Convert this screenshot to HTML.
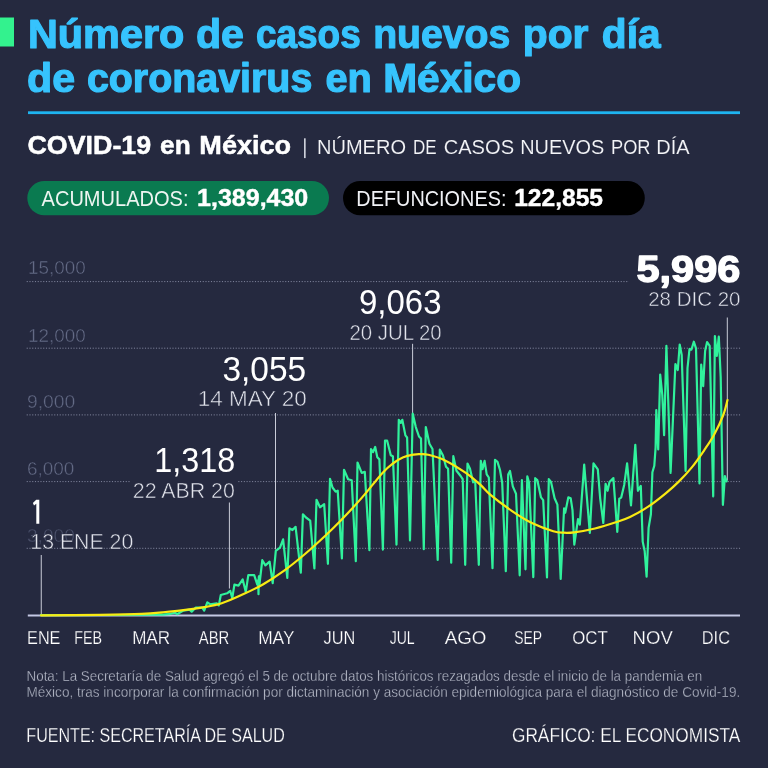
<!DOCTYPE html>
<html lang="es"><head><meta charset="utf-8"><title>Número de casos nuevos por día de coronavirus en México</title>
<style>
html,body{margin:0;padding:0;background:#25293f;}
body{width:768px;height:768px;overflow:hidden;font-family:"Liberation Sans",sans-serif;}
svg{display:block;will-change:transform;}
svg text{font-family:"Liberation Sans",sans-serif;}
</style></head><body>
<svg width="768" height="768" viewBox="0 0 768 768">
<rect width="768" height="768" fill="#25293f"/>
<rect x="0" y="17.5" width="14" height="29" fill="#33f28e"/>
<rect x="28" y="111.3" width="712" height="2.8" fill="#1eb4f0"/>
<rect x="27.3" y="181" width="301.7" height="34.2" rx="17.1" fill="#0a7a50"/>
<rect x="343" y="181" width="301.8" height="34.2" rx="17.1" fill="#000"/>
<rect x="304.1" y="138.3" width="1.5" height="19.8" fill="#dfe1ea"/>
<line x1="26.7" y1="281.6" x2="629" y2="281.6" stroke="#80859d" stroke-width="1" stroke-dasharray="1.1 1.65"/>
<line x1="26.7" y1="348.2" x2="741" y2="348.2" stroke="#80859d" stroke-width="1" stroke-dasharray="1.1 1.65"/>
<line x1="26.7" y1="414.9" x2="741" y2="414.9" stroke="#80859d" stroke-width="1" stroke-dasharray="1.1 1.65"/>
<line x1="26.7" y1="481.6" x2="130.5" y2="481.6" stroke="#80859d" stroke-width="1" stroke-dasharray="1.1 1.65"/>
<line x1="238.3" y1="481.6" x2="741" y2="481.6" stroke="#80859d" stroke-width="1" stroke-dasharray="1.1 1.65"/>
<line x1="26.7" y1="548.3" x2="741" y2="548.3" stroke="#80859d" stroke-width="1" stroke-dasharray="1.1 1.65"/>

<text x="28.13" y="274" font-size="17.5" font-weight="normal" fill="#636a85" textLength="57.59" lengthAdjust="spacingAndGlyphs" stroke="#25293f" stroke-width="0.4" class="yl">15,000</text>
<text x="28.13" y="341.5" font-size="17.5" font-weight="normal" fill="#636a85" textLength="57.59" lengthAdjust="spacingAndGlyphs" stroke="#25293f" stroke-width="0.4" class="yl">12,000</text>
<text x="26.96" y="408" font-size="17.5" font-weight="normal" fill="#636a85" textLength="48.37" lengthAdjust="spacingAndGlyphs" stroke="#25293f" stroke-width="0.4" class="yl">9,000</text>
<text x="26.91" y="474.5" font-size="17.5" font-weight="normal" fill="#636a85" textLength="47.51" lengthAdjust="spacingAndGlyphs" stroke="#25293f" stroke-width="0.4" class="yl">6,000</text>
<text x="26.96" y="541.5" font-size="17.5" font-weight="normal" fill="#4a506a" textLength="47.83" lengthAdjust="spacingAndGlyphs" stroke="#25293f" stroke-width="0.4" class="yl">3,000</text>
<line x1="41.25" y1="555" x2="41.25" y2="616" stroke="#c9ccd8" stroke-width="1"/>
<line x1="229.4" y1="502.5" x2="229.4" y2="588.5" stroke="#c9ccd8" stroke-width="1"/>
<line x1="275.5" y1="413" x2="275.5" y2="549.5" stroke="#c9ccd8" stroke-width="1"/>
<line x1="412.6" y1="343.8" x2="412.6" y2="413" stroke="#c9ccd8" stroke-width="1"/>
<line x1="727.3" y1="317.5" x2="727.3" y2="480.5" stroke="#c9ccd8" stroke-width="1"/>

<line x1="27.8" y1="615.6" x2="740" y2="615.6" stroke="#c4c8e4" stroke-width="2"/>
<polyline fill="none" stroke="#30f29c" stroke-width="2.2" stroke-linejoin="round" stroke-linecap="round" points="41.0,615.2 120.0,615.0 150.0,614.6 162.5,614.6 168.8,614.2 175.0,612.7 177.1,614.2 183.3,610.6 189.6,609.6 191.7,611.7 195.8,607.5 202.1,607.5 204.2,610.6 207.3,602.3 210.4,604.4 216.7,603.3 218.8,605.4 220.8,595.0 227.1,593.3 230.2,590.8 232.3,598.1 234.4,584.6 238.5,585.6 242.7,579.4 245.8,591.9 248.3,575.2 254.2,575.2 257.3,584.6 257.6,584.2 257.9,585.2 258.2,580.0 258.5,594.2 258.8,576.9 259.1,576.2 259.2,586.7 262.3,560.2 265.4,565.4 269.6,561.7 272.7,583.1 275.8,550.8 280.0,547.7 283.1,539.4 287.3,577.9 289.4,528.3 292.5,530.0 295.6,526.9 300.8,572.7 302.9,514.4 306.0,517.5 310.2,520.6 314.4,568.5 316.5,499.8 320.0,507.3 324.2,504.2 327.9,563.8 330.0,478.8 332.5,487.5 335.6,491.7 337.7,490.6 341.9,558.5 344.0,469.8 348.1,479.2 351.7,480.2 355.8,561.2 357.5,462.5 361.7,472.9 364.8,471.9 369.4,550.2 371.0,449.0 373.1,452.1 375.2,446.9 377.3,457.3 379.4,459.4 382.9,549.6 385.0,440.6 387.1,440.6 390.8,455.2 392.9,456.2 396.5,544.6 398.8,419.8 400.8,422.9 402.3,419.8 405.4,435.4 407.1,437.5 410.0,540.4 412.7,413.5 415.8,427.1 419.0,436.5 421.0,438.5 423.8,549.2 425.8,427.1 429.4,443.8 432.5,449.0 437.7,560.0 439.8,449.6 442.9,455.2 446.0,466.7 448.1,468.8 451.2,562.7 453.3,456.2 456.5,470.8 460.6,476.0 462.7,479.2 465.2,564.8 467.5,463.5 470.0,468.8 473.1,482.3 475.2,481.2 478.8,564.8 480.8,460.8 482.5,469.2 484.6,460.8 486.7,474.4 488.8,477.5 492.5,568.1 495.0,459.8 497.5,461.9 500.0,470.0 502.2,482.8 505.8,571.1 508.2,474.6 510.0,470.9 512.8,486.4 516.0,493.7 519.7,575.3 521.9,480.1 525.5,569.3 527.3,476.4 529.1,482.8 533.3,577.1 535.2,478.2 537.3,480.1 541.0,497.4 543.2,500.1 547.0,577.5 548.8,479.1 551.0,481.9 554.6,498.3 557.4,504.6 560.7,579.0 564.1,508.3 565.2,512.8 568.3,497.4 570.7,498.3 572.5,510.1 574.3,544.7 578.0,519.2 579.8,524.7 584.2,464.6 589.8,532.9 593.5,463.4 597.8,469.3 600.2,498.6 603.3,523.0 605.6,483.9 607.6,490.8 609.5,482.0 613.4,478.1 617.3,531.8 619.3,498.6 621.2,497.6 624.2,484.9 627.1,463.4 631.0,505.4 635.3,444.9 637.9,490.8 640.8,485.9 642.7,541.6 644.7,551.3 646.6,576.7 648.6,527.9 650.9,514.2 652.4,472.3 654.3,465.8 655.6,447.5 656.3,410.0 658.2,449.5 660.2,374.5 662.3,395.0 664.1,435.2 666.4,345.8 670.6,472.9 675.4,364.0 677.8,370.0 679.7,344.5 681.7,355.0 685.6,471.0 687.5,368.0 689.5,349.0 691.4,349.7 693.8,341.7 696.0,348.4 699.5,483.4 701.2,364.7 703.2,386.2 705.1,351.0 707.1,342.0 709.7,345.8 713.2,496.4 714.9,336.0 716.8,356.0 718.8,336.7 720.7,377.0 722.9,504.8 724.9,476.2 726.6,481.4"/>
<path fill="none" stroke="#f9ea12" stroke-width="2.2" stroke-linecap="round" d="M41.0,615.3 C50.8,615.2 83.2,615.1 100.0,614.8 C116.8,614.5 131.3,614.2 141.7,613.8 C152.1,613.3 155.6,612.9 162.5,612.3 C169.4,611.7 176.4,611.1 183.3,610.2 C190.2,609.4 197.8,608.4 204.2,607.2 C210.6,606.1 215.3,605.4 221.7,603.3 C228.1,601.2 235.6,597.8 242.5,594.6 C249.4,591.4 256.4,588.2 263.3,584.2 C270.2,580.2 277.2,575.6 284.2,570.6 C291.1,565.6 298.1,559.9 305.0,554.0 C311.9,548.1 319.8,540.8 325.8,535.2 C331.8,529.6 334.8,526.7 340.8,520.5 C346.8,514.3 354.8,505.8 361.7,497.9 C368.6,490.0 377.3,478.6 382.5,472.9 C387.7,467.2 389.4,466.1 392.9,463.5 C396.4,460.9 399.8,458.8 403.3,457.3 C406.8,455.8 411.0,455.1 413.8,454.6 C416.5,454.1 417.6,454.2 420.0,454.2 C422.4,454.2 424.1,453.8 428.3,454.8 C432.5,455.8 438.8,457.4 445.0,460.4 C451.2,463.4 460.0,468.9 465.8,472.9 C471.6,476.9 475.8,480.7 480.0,484.4 C484.2,488.1 485.5,490.8 490.8,495.2 C496.1,499.6 504.8,506.1 511.7,510.8 C518.6,515.5 525.6,519.9 532.5,523.3 C539.4,526.7 548.1,529.7 553.3,531.2 C558.5,532.8 560.3,532.5 563.8,532.7 C567.2,532.9 569.0,533.0 574.2,532.3 C579.4,531.6 588.1,530.2 595.0,528.5 C601.9,526.8 610.0,524.2 615.8,522.3 C621.6,520.4 624.5,519.6 630.0,517.0 C635.5,514.4 642.6,510.4 648.6,506.4 C654.6,502.4 660.9,497.3 666.0,493.1 C671.1,488.9 674.7,485.7 679.0,481.4 C683.3,477.1 687.6,472.5 692.0,467.1 C696.4,461.7 701.4,454.3 705.1,448.9 C708.8,443.5 711.2,440.1 714.2,434.5 C717.2,428.9 721.1,420.8 723.3,415.0 C725.5,409.2 726.8,402.5 727.5,400.0"/>
<text x="27.96" y="47.8" font-size="40" font-weight="bold" fill="#36c3fd" textLength="156.33" lengthAdjust="spacingAndGlyphs" stroke="#36c3fd" stroke-width="1.2" stroke-linejoin="round">Número</text>
<text x="195.95" y="47.8" font-size="40" font-weight="bold" fill="#36c3fd" textLength="48.02" lengthAdjust="spacingAndGlyphs" stroke="#36c3fd" stroke-width="1.2" stroke-linejoin="round">de</text>
<text x="256.01" y="47.8" font-size="40" font-weight="bold" fill="#36c3fd" textLength="104.67" lengthAdjust="spacingAndGlyphs" stroke="#36c3fd" stroke-width="1.2" stroke-linejoin="round">casos</text>
<text x="373.2" y="47.8" font-size="40" font-weight="bold" fill="#36c3fd" textLength="137.14" lengthAdjust="spacingAndGlyphs" stroke="#36c3fd" stroke-width="1.2" stroke-linejoin="round">nuevos</text>
<text x="522.73" y="47.8" font-size="40" font-weight="bold" fill="#36c3fd" textLength="65.76" lengthAdjust="spacingAndGlyphs" stroke="#36c3fd" stroke-width="1.2" stroke-linejoin="round">por</text>
<text x="601.84" y="47.8" font-size="40" font-weight="bold" fill="#36c3fd" textLength="58.71" lengthAdjust="spacingAndGlyphs" stroke="#36c3fd" stroke-width="1.2" stroke-linejoin="round">día</text>
<text x="27.12" y="92.3" font-size="40" font-weight="bold" fill="#36c3fd" textLength="48.0" lengthAdjust="spacingAndGlyphs" stroke="#36c3fd" stroke-width="1.2" stroke-linejoin="round">de</text>
<text x="86.92" y="92.3" font-size="40" font-weight="bold" fill="#36c3fd" textLength="225.41" lengthAdjust="spacingAndGlyphs" stroke="#36c3fd" stroke-width="1.2" stroke-linejoin="round">coronavirus</text>
<text x="325.51" y="92.3" font-size="40" font-weight="bold" fill="#36c3fd" textLength="46.39" lengthAdjust="spacingAndGlyphs" stroke="#36c3fd" stroke-width="1.2" stroke-linejoin="round">en</text>
<text x="383.19" y="92.3" font-size="40" font-weight="bold" fill="#36c3fd" textLength="137.83" lengthAdjust="spacingAndGlyphs" stroke="#36c3fd" stroke-width="1.2" stroke-linejoin="round">México</text>
<text x="27.51" y="154.4" font-size="26" font-weight="bold" fill="#fff" textLength="123.68" lengthAdjust="spacingAndGlyphs" stroke="#fff" stroke-width="0.5" stroke-linejoin="round">COVID-19</text>
<text x="160.05" y="154.4" font-size="26" font-weight="bold" fill="#fff" textLength="30.6" lengthAdjust="spacingAndGlyphs" stroke="#fff" stroke-width="0.5" stroke-linejoin="round">en</text>
<text x="199.33" y="154.4" font-size="26" font-weight="bold" fill="#fff" textLength="91.82" lengthAdjust="spacingAndGlyphs" stroke="#fff" stroke-width="0.5" stroke-linejoin="round">México</text>
<text x="317.02" y="154" font-size="21" font-weight="normal" fill="#f4f5f8" textLength="89.02" lengthAdjust="spacingAndGlyphs" stroke="#25293f" stroke-width="0.12">NÚMERO</text>
<text x="412.98" y="154" font-size="21" font-weight="normal" fill="#f4f5f8" textLength="23.67" lengthAdjust="spacingAndGlyphs" stroke="#25293f" stroke-width="0.12">DE</text>
<text x="443.67" y="154" font-size="21" font-weight="normal" fill="#f4f5f8" textLength="70.44" lengthAdjust="spacingAndGlyphs" stroke="#25293f" stroke-width="0.12">CASOS</text>
<text x="520.22" y="154" font-size="21" font-weight="normal" fill="#f4f5f8" textLength="83.98" lengthAdjust="spacingAndGlyphs" stroke="#25293f" stroke-width="0.12">NUEVOS</text>
<text x="610.99" y="154" font-size="21" font-weight="normal" fill="#f4f5f8" textLength="39.58" lengthAdjust="spacingAndGlyphs" stroke="#25293f" stroke-width="0.12">POR</text>
<text x="656.32" y="154" font-size="21" font-weight="normal" fill="#f4f5f8" textLength="33.26" lengthAdjust="spacingAndGlyphs" stroke="#25293f" stroke-width="0.12">DÍA</text>
<text x="41.55" y="205.8" font-size="21.3" font-weight="normal" fill="#eef5f1" textLength="146.96" lengthAdjust="spacingAndGlyphs">ACUMULADOS:</text>
<text x="197.14" y="206.2" font-size="23.5" font-weight="bold" fill="#fff" textLength="111.14" lengthAdjust="spacingAndGlyphs" stroke="#fff" stroke-width="0.4" stroke-linejoin="round">1,389,430</text>
<text x="356.32" y="205.8" font-size="21.3" font-weight="normal" fill="#f0f1f5" textLength="150.14" lengthAdjust="spacingAndGlyphs">DEFUNCIONES:</text>
<text x="514.18" y="206.2" font-size="23.5" font-weight="bold" fill="#fff" textLength="88.84" lengthAdjust="spacingAndGlyphs" stroke="#fff" stroke-width="0.4" stroke-linejoin="round">122,855</text>
<text x="30.35" y="548.9" font-size="21.3" font-weight="normal" fill="#e2e4ec" textLength="102.92" lengthAdjust="spacingAndGlyphs" stroke="#25293f" stroke-width="0.5">13 ENE 20</text>
<text x="154.29" y="472" font-size="35" font-weight="normal" fill="#fff" textLength="80.96" lengthAdjust="spacingAndGlyphs">1,318</text>
<text x="132.83" y="497.5" font-size="21.3" font-weight="normal" fill="#e2e4ec" textLength="101.93" lengthAdjust="spacingAndGlyphs" stroke="#25293f" stroke-width="0.5">22 ABR 20</text>
<text x="222.46" y="381" font-size="35" font-weight="normal" fill="#fff" textLength="83.78" lengthAdjust="spacingAndGlyphs">3,055</text>
<text x="197.73" y="406.3" font-size="21.3" font-weight="normal" fill="#e2e4ec" textLength="109.16" lengthAdjust="spacingAndGlyphs" stroke="#25293f" stroke-width="0.5">14 MAY 20</text>
<text x="358.97" y="314" font-size="35" font-weight="normal" fill="#fff" textLength="82.54" lengthAdjust="spacingAndGlyphs">9,063</text>
<text x="349.51" y="339.6" font-size="21.5" font-weight="normal" fill="#e2e4ec" textLength="92.2" lengthAdjust="spacingAndGlyphs" stroke="#25293f" stroke-width="0.5">20 JUL 20</text>
<text x="636.48" y="281.7" font-size="37" font-weight="bold" fill="#fff" textLength="103.92" lengthAdjust="spacingAndGlyphs" stroke="#fff" stroke-width="1.3" stroke-linejoin="round">5,996</text>
<text x="648.22" y="306.4" font-size="21" font-weight="normal" fill="#e2e4ec" textLength="92.28" lengthAdjust="spacingAndGlyphs" stroke="#25293f" stroke-width="0.5">28 DIC 20</text>
<text x="27.07" y="643.5" font-size="19" font-weight="normal" fill="#fff" textLength="33.4" lengthAdjust="spacingAndGlyphs" stroke="#25293f" stroke-width="0.25">ENE</text>
<text x="74.35" y="643.5" font-size="19" font-weight="normal" fill="#fff" textLength="27.72" lengthAdjust="spacingAndGlyphs" stroke="#25293f" stroke-width="0.25">FEB</text>
<text x="132.13" y="643.5" font-size="19" font-weight="normal" fill="#fff" textLength="37.91" lengthAdjust="spacingAndGlyphs" stroke="#25293f" stroke-width="0.25">MAR</text>
<text x="198.83" y="643.5" font-size="19" font-weight="normal" fill="#fff" textLength="30.47" lengthAdjust="spacingAndGlyphs" stroke="#25293f" stroke-width="0.25">ABR</text>
<text x="258.15" y="643.5" font-size="19" font-weight="normal" fill="#fff" textLength="36.32" lengthAdjust="spacingAndGlyphs" stroke="#25293f" stroke-width="0.25">MAY</text>
<text x="323.59" y="643.5" font-size="19" font-weight="normal" fill="#fff" textLength="31.73" lengthAdjust="spacingAndGlyphs" stroke="#25293f" stroke-width="0.25">JUN</text>
<text x="389.68" y="643.5" font-size="19" font-weight="normal" fill="#fff" textLength="25.0" lengthAdjust="spacingAndGlyphs" stroke="#25293f" stroke-width="0.25">JUL</text>
<text x="444.79" y="643.5" font-size="19" font-weight="normal" fill="#fff" textLength="41.64" lengthAdjust="spacingAndGlyphs" stroke="#25293f" stroke-width="0.25">AGO</text>
<text x="514.22" y="643.5" font-size="19" font-weight="normal" fill="#fff" textLength="27.89" lengthAdjust="spacingAndGlyphs" stroke="#25293f" stroke-width="0.25">SEP</text>
<text x="572.27" y="643.5" font-size="19" font-weight="normal" fill="#fff" textLength="35.53" lengthAdjust="spacingAndGlyphs" stroke="#25293f" stroke-width="0.25">OCT</text>
<text x="632.61" y="643.5" font-size="19" font-weight="normal" fill="#fff" textLength="40.2" lengthAdjust="spacingAndGlyphs" stroke="#25293f" stroke-width="0.25">NOV</text>
<text x="701.79" y="643.5" font-size="19" font-weight="normal" fill="#fff" textLength="28.22" lengthAdjust="spacingAndGlyphs" stroke="#25293f" stroke-width="0.25">DIC</text>
<text x="26.54" y="681.2" font-size="14" font-weight="normal" fill="#b9bdcb" textLength="675.66" lengthAdjust="spacingAndGlyphs" stroke="#25293f" stroke-width="0.3">Nota: La Secretaría de Salud agregó el 5 de octubre datos históricos rezagados desde el inicio de la pandemia en</text>
<text x="26.49" y="697" font-size="14" font-weight="normal" fill="#b9bdcb" textLength="713.73" lengthAdjust="spacingAndGlyphs" stroke="#25293f" stroke-width="0.3">México, tras incorporar la confirmación por dictaminación y asociación epidemiológica para el diagnóstico de Covid-19.</text>
<text x="26.37" y="741.7" font-size="20.5" font-weight="normal" fill="#fff" textLength="258.45" lengthAdjust="spacingAndGlyphs" stroke="#25293f" stroke-width="0.25">FUENTE: SECRETARÍA DE SALUD</text>
<text x="511.99" y="741.7" font-size="20.5" font-weight="normal" fill="#fff" textLength="228.23" lengthAdjust="spacingAndGlyphs" stroke="#25293f" stroke-width="0.25">GRÁFICO: EL ECONOMISTA</text>
<polygon fill="#fff" points="32.9,503.1 36.2,499.8 39.3,499.8 39.3,523.7 36.3,523.7 36.3,503.7 34,505.5"/>
</svg>
</body></html>
